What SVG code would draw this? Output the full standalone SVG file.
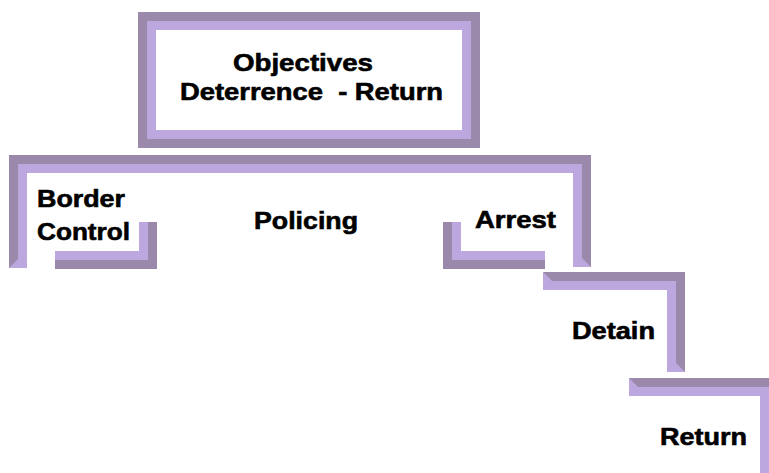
<svg xmlns="http://www.w3.org/2000/svg" width="769" height="473" viewBox="0 0 769 473">
<style>
.dk{fill:#9a89ab}
.lt{fill:#bca7de}
.wh{fill:#ffffff}
.lbl{font-family:"Liberation Sans",Arial,sans-serif;font-weight:bold;font-size:24px;fill:#000000;stroke:#000000;stroke-width:0.6;white-space:pre}
</style>
<rect x="0" y="0" width="769" height="473" fill="#ffffff"/>
<g id="objectives">
<rect class="dk" x="138" y="12" width="342" height="136"/>
<rect class="lt" x="147" y="21" width="324" height="118"/>
<rect class="wh" x="156" y="30" width="306" height="100"/>
<text class="lbl" x="233" y="71" textLength="140" lengthAdjust="spacingAndGlyphs">Objectives</text>
<text class="lbl" x="180" y="100" textLength="263" lengthAdjust="spacingAndGlyphs">Deterrence  - Return</text>
</g>
<g id="connectors">
<polygon class="dk" points="9,268 9,155 591,155 591,267 582,267 582,164 18,164 18,268"/>
<polygon class="lt" points="18,268 18,164 582,164 582,267 573,267 573,173 27,173 27,268"/>
<polygon class="lt" points="9,268 18,259 18,268"/>
<polygon class="lt" points="582,258 591,267 582,267"/>
</g>
<g id="border-control">
<polygon class="lt" points="139,222 148,222 148,260 55,260 55,251 139,251"/>
<polygon class="dk" points="148,222 157,222 157,269 55,269 55,260 148,260"/>
<text class="lbl" x="37" y="207" textLength="88" lengthAdjust="spacingAndGlyphs">Border</text>
<text class="lbl" x="37" y="240" textLength="93" lengthAdjust="spacingAndGlyphs">Control</text>
</g>
<g id="policing">
<text class="lbl" x="254" y="229" textLength="104" lengthAdjust="spacingAndGlyphs">Policing</text>
</g>
<g id="arrest">
<polygon class="dk" points="443,222 452,222 452,260 545,260 545,269 443,269"/>
<polygon class="lt" points="452,222 461,222 461,251 545,251 545,260 452,260"/>
<text class="lbl" x="475" y="228" textLength="81" lengthAdjust="spacingAndGlyphs">Arrest</text>
</g>
<g id="detain">
<polygon class="dk" points="543,272 685,272 685,372 676,372 676,281 543,281"/>
<polygon class="lt" points="543,281 676,281 676,372 667,372 667,290 543,290"/>
<polygon class="lt" points="543,272 552,281 543,281"/>
<polygon class="lt" points="676,363 685,372 676,372"/>
<text class="lbl" x="572" y="339" textLength="83" lengthAdjust="spacingAndGlyphs">Detain</text>
</g>
<g id="return">
<polygon class="dk" points="629,378 778,378 778,473 769,473 769,387 629,387"/>
<polygon class="lt" points="629,387 769,387 769,473 760,473 760,396 629,396"/>
<polygon class="lt" points="629,378 638,387 629,387"/>
<text class="lbl" x="660" y="445" textLength="87" lengthAdjust="spacingAndGlyphs">Return</text>
</g>
</svg>
